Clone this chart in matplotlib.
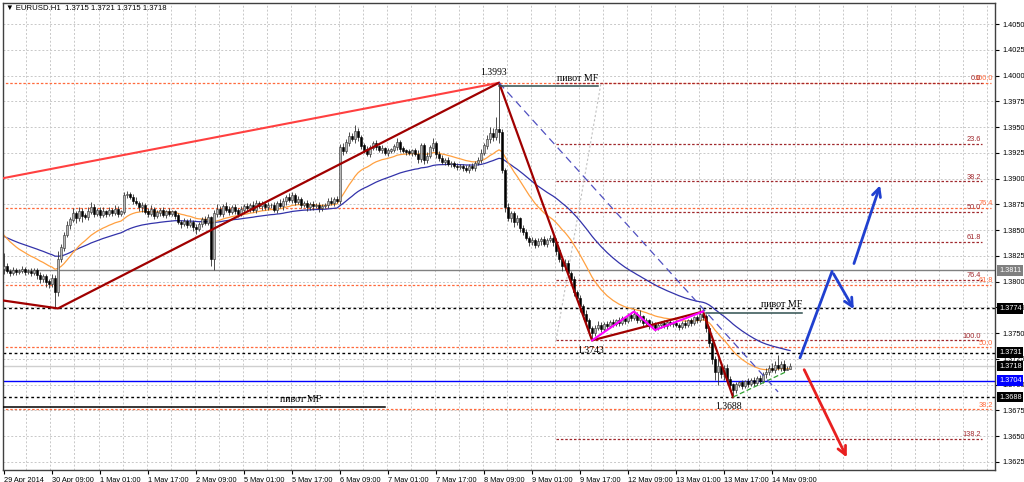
import numpy as np
import matplotlib.pyplot as plt
from matplotlib.transforms import blended_transform_factory

plt.rcParams['font.family'] = ['Liberation Sans', 'DejaVu Sans']

# EURUSD H1, 29 Apr 17:00 .. 14 May 2014 (one close per bar)
closes = [
    1.3815, 1.3810, 1.3808, 1.3811, 1.3809, 1.3810, 1.3812, 1.3809, 1.3810, 1.3808,
    1.3811, 1.3806, 1.3803, 1.3805, 1.3800, 1.3798, 1.3803, 1.3790, 1.3822, 1.3833,
    1.3845, 1.3855, 1.3860, 1.3866, 1.3862, 1.3868, 1.3864, 1.3863, 1.3868, 1.3872,
    1.3866, 1.3869, 1.3865, 1.3868, 1.3866, 1.3869, 1.3867, 1.3870, 1.3866, 1.3868,
    1.3884, 1.3885, 1.3882, 1.3878, 1.3876, 1.3872, 1.3874, 1.3868, 1.3866, 1.3870,
    1.3864, 1.3867, 1.3869, 1.3865, 1.3868, 1.3866, 1.3868, 1.3864, 1.3858, 1.3856,
    1.3859, 1.3855, 1.3858, 1.3853, 1.3851, 1.3856, 1.3860, 1.3857, 1.3862, 1.3822,
    1.3866, 1.3870, 1.3866, 1.3873, 1.3870, 1.3868, 1.3872, 1.3869, 1.3866, 1.3870,
    1.3873, 1.3871, 1.3874, 1.3870, 1.3876, 1.3873, 1.3875, 1.3872, 1.3874, 1.3874,
    1.3870, 1.3876, 1.3873, 1.3878, 1.3882, 1.3879, 1.3884, 1.3877, 1.3880, 1.3874,
    1.3876, 1.3872, 1.3875, 1.3873, 1.3874, 1.3871, 1.3873, 1.3874, 1.3878, 1.3876,
    1.3880, 1.3878, 1.3930, 1.3927, 1.3935, 1.3941, 1.3938, 1.3946, 1.3940, 1.3932,
    1.3928, 1.3924, 1.3930, 1.3934, 1.3931, 1.3928, 1.3929, 1.3925, 1.3927, 1.3928,
    1.3931, 1.3935, 1.3929, 1.3927, 1.3926, 1.3925, 1.3927, 1.3924, 1.3919, 1.3932,
    1.3918, 1.3922, 1.3930, 1.3934, 1.3924, 1.3920, 1.3916, 1.3918, 1.3914, 1.3915,
    1.3912, 1.3911, 1.3912, 1.3910, 1.3908, 1.3912, 1.3910, 1.3915, 1.3918, 1.3925,
    1.3932, 1.3938, 1.3944, 1.3940, 1.3948, 1.3945, 1.3908, 1.3872, 1.3862, 1.3866,
    1.3858, 1.3861, 1.3852, 1.3848, 1.3842, 1.3838, 1.3840, 1.3836, 1.3839, 1.3841,
    1.3837, 1.3840, 1.3842, 1.3838, 1.3830, 1.3822, 1.3815, 1.3818, 1.3808, 1.3802,
    1.3790, 1.3784, 1.3776, 1.3768, 1.3762, 1.3755, 1.3750, 1.3755, 1.3758, 1.3754,
    1.3759, 1.3757, 1.3761, 1.3759, 1.3762, 1.3760, 1.3764, 1.3762, 1.3767, 1.3765,
    1.3768, 1.3763, 1.3766, 1.3760, 1.3762, 1.3757, 1.3759, 1.3755, 1.3758, 1.3760,
    1.3757, 1.3761, 1.3759, 1.3760, 1.3758, 1.3756, 1.3760, 1.3758, 1.3762, 1.3760,
    1.3765, 1.3763, 1.3768, 1.3766, 1.3755, 1.3740, 1.3725, 1.3712, 1.3718, 1.3710,
    1.3716, 1.3705, 1.3700, 1.3695, 1.3700, 1.3702, 1.3699, 1.3703, 1.3701, 1.3704,
    1.3702, 1.3706, 1.3704, 1.3710, 1.3712, 1.3716, 1.3714, 1.3719, 1.3716, 1.3720,
    1.3714, 1.3715, 1.3718,
]
first_open = 1.3812

# wick lengths in pips above / below the body
hi_wick = [
    13, 3, 2, 3, 2, 2, 3, 2, 2, 3,  2, 2, 3, 2, 2, 3, 4, 3, 8, 4,
    3, 4, 3, 5, 3, 4, 3, 3, 4, 5,  3, 2, 3, 4, 2, 3, 2, 4, 3, 2,
    3, 3, 2, 3, 4, 2, 3, 2, 3, 4,  2, 3, 2, 3, 2, 3, 2, 2, 3, 2,
    3, 2, 4, 2, 3, 2, 3, 4, 4, 2,  4, 5, 3, 2, 4, 3, 2, 3, 2, 3,
    2, 3, 2, 4, 3, 2, 3, 2, 3, 2,  3, 2, 4, 3, 2, 4, 3, 2, 3, 2,
    2, 3, 2, 3, 2, 3, 2, 2, 3, 4,  2, 3, 4, 5, 3, 4, 3, 6, 3, 2,
    3, 4, 3, 2, 3, 2, 4, 2, 3, 2,  3, 4, 2, 3, 2, 3, 2, 3, 4, 3,
    3, 4, 3, 5, 2, 3, 3, 2, 3, 2,  2, 3, 2, 2, 3, 2, 3, 2, 3, 4,
    3, 4, 6, 5, 12, 45, 3, 2, 4, 3, 3, 4, 2, 3, 3, 2, 3, 2, 3, 2,
    3, 2, 3, 2, 4, 3, 2, 4, 3, 2,  3, 2, 3, 2, 4, 3, 2, 3, 4, 3,
    2, 3, 2, 3, 2, 4, 3, 2, 3, 4,  5, 3, 6, 2, 3, 2, 3, 2, 3, 2,
    3, 2, 3, 2, 3, 2, 2, 3, 2, 3,  2, 3, 6, 6, 3, 2, 4, 3, 8, 4,
    3, 4, 3, 2, 3, 2, 3, 2, 3, 2,  3, 2, 3, 2, 4, 3, 5, 4, 10, 3,
    4, 3, 3,
]
lo_wick = [
    5, 2, 3, 2, 3, 2, 2, 3, 2, 3,  2, 3, 4, 3, 5, 4, 3, 16, 4, 3,
    3, 2, 4, 2, 5, 3, 6, 2, 3, 2,  3, 2, 3, 2, 3, 2, 3, 2, 3, 2,
    2, 3, 2, 3, 2, 3, 4, 2, 3, 2,  3, 2, 3, 2, 3, 2, 2, 3, 2, 4,
    2, 3, 2, 4, 5, 2, 3, 2, 2, 7,  11, 3, 2, 3, 2, 3, 2, 3, 3, 2,
    3, 2, 3, 2, 3, 2, 3, 2, 2, 3,  2, 3, 2, 3, 4, 2, 3, 3, 2, 3,
    2, 3, 2, 3, 2, 3, 2, 2, 3, 2,  3, 2, 3, 4, 2, 3, 2, 3, 4, 3,
    3, 2, 3, 2, 3, 2, 3, 2, 3, 2,  2, 3, 3, 2, 3, 2, 3, 2, 4, 3,
    4, 3, 2, 3, 4, 3, 2, 3, 2, 3,  2, 3, 2, 3, 2, 3, 2, 3, 2, 3,
    2, 3, 3, 4, 3, 10, 3, 4, 3, 4, 5, 3, 4, 3, 2, 3, 2, 3, 2, 3,
    2, 3, 2, 3, 4, 3, 5, 4, 3, 4,  4, 3, 5, 4, 3, 7, 7, 3, 2, 3,
    2, 3, 2, 3, 2, 3, 2, 3, 2, 3,  2, 3, 2, 3, 2, 3, 2, 3, 2, 3,
    2, 3, 2, 3, 2, 3, 2, 3, 2, 3,  2, 3, 2, 3, 4, 3, 5, 7, 12, 4,
    5, 4, 3, 7, 3, 2, 3, 2, 3, 2,  3, 2, 3, 2, 4, 3, 2, 3, 2, 3,
    2, 0, 0,
]

date_labels = ["29 Apr 2014", "30 Apr 09:00", "1 May 01:00", "1 May 17:00", "2 May 09:00",
               "5 May 01:00", "5 May 17:00", "6 May 09:00", "7 May 01:00", "7 May 17:00",
               "8 May 09:00", "9 May 01:00", "9 May 17:00", "12 May 09:00", "13 May 01:00",
               "13 May 17:00", "14 May 09:00"]

# moving averages (EMA) and their values before the first visible bar
fast_period, slow_period = 21, 50
fast_start, slow_start = 1.3848, 1.3845

# horizontal levels with price boxes on the axis
hline_prices = [1.3811, 1.3774, 1.3731, 1.3718, 1.3704, 1.3688]

# fibo grid A (orange): 100% at the high, 0% far below the chart
fibA_100, fibA_0 = 1.3993, 1.3480
fibA_levels = [100.0, 76.4, 61.8, 50.0, 38.2]
# fibo grid B (dark red): 0% at the high, 100% at 1.3743
fibB_0, fibB_100 = 1.3993, 1.3743
fibB_levels = [0.0, 23.6, 38.2, 50.0, 61.8, 76.4, 100.0, 138.2]
fibB_base_bars = [184, 199]
fibB_base_prices = [1.3743, 1.3993]

red_bars, red_prices = [-1, 165], [1.3900, 1.3993]
zig_bars = [-1, 18, 165, 196, 233, 243]
zig_prices = [1.3782, 1.3774, 1.3993, 1.3743, 1.3771, 1.3688]
mag_bars, mag_prices = [196, 210, 217, 233], [1.3743, 1.3771, 1.3753, 1.3771]
green_bars, green_prices = [243, 261], [1.3688, 1.3713]
dash_bars, dash_prices = [165, 258], [1.3993, 1.3693]

pivot_start = [165, 234, -1]
pivot_end = [198, 266, 127]
pivot_price = [1.3990, 1.3770, 1.3678]

swing_bars = [163, 195.5, 241.5]
swing_prices = [1.3993, 1.3743, 1.3688]

blue_path_bars, blue_path_prices = [265.3, 276, 283.7], [1.3726, 1.3810, 1.3771]
blue_up_bars, blue_up_prices = [283, 292.3], [1.3815, 1.3896]
red_arrow_bars, red_arrow_prices = [266.3, 281.3], [1.3717, 1.3627]


closes = np.array(closes)
opens = np.concatenate([[first_open], closes[:-1]])
highs = np.maximum(opens, closes) + np.array(hi_wick) * 0.0001
lows = np.minimum(opens, closes) - np.array(lo_wick) * 0.0001
n = len(closes)
idx = np.arange(n)


def ema(values, period, start):
    out, e, a = [], start, 2.0 / (period + 1)
    for v in values:
        e = e + a * (v - e)
        out.append(e)
    return np.array(out)


fs = 5.3
fig = plt.figure(figsize=(10.24, 4.82), dpi=100)
ax = fig.add_axes([3 / 1024, 12 / 482, 992 / 1024, 467 / 482])
ax.set_xlim(-0.33, 330.3)
ax.set_ylim(1.36172, 1.40704)
trans = blended_transform_factory(ax.transAxes, ax.transData)

# grid
yt = np.arange(1.3625, 1.40501, 0.0025)
for y in yt:
    ax.axhline(y, color='#c8c8c8', lw=0.7, ls=(0, (2, 2)), zorder=0)
for x in range(8, 331, 8):
    ax.axvline(x - 0.5, color='#c8c8c8', lw=0.7, ls=(0, (2, 2)), zorder=0)

# fibo grids
for lv in fibA_levels:
    p = fibA_0 + (fibA_100 - fibA_0) * lv / 100
    ax.plot([-1, 329], [p, p], color='#ff6a3c', lw=0.9, ls=(0, (2, 1.5)), zorder=1)
    ax.text(329.7, p + 0.00005, f"{lv:.1f}", color='#ff6a3c', fontsize=fs, ha='right', va='bottom')
for lv in fibB_levels:
    p = fibB_0 + (fibB_100 - fibB_0) * lv / 100
    ax.plot([fibB_base_bars[0], 326], [p, p], color='#a0282d', lw=0.9, ls=(0, (2, 1.5)), zorder=1)
    ax.text(325.7, p + 0.00005, f"{lv:.1f}", color='#a0282d', fontsize=fs, ha='right', va='bottom')
ax.plot(fibB_base_bars, fibB_base_prices, color='#c0c0c0', lw=0.8, ls=(0, (2, 2)), zorder=1)

# horizontal lines
hl_colors = ['#808080', 'black', 'black', '#cfcfcf', '#0000ff', 'black']
hl_styles = ['-', (0, (2, 2)), (0, (2, 2)), '-', '-', (0, (2, 2))]
hl_box = ['#808080', 'black', 'black', 'black', '#0000ff', 'black']
for p, c, s, b in zip(hline_prices, hl_colors, hl_styles, hl_box):
    ax.axhline(p, color=c, lw=1.0, ls=s, zorder=1.5)
    ax.text(1.004, p, f"{p:.4f}", transform=trans, color='white', fontsize=fs,
            ha='left', va='center', zorder=6, clip_on=False,
            bbox=dict(boxstyle='square,pad=0.25', fc=b, ec='none'))

# moving averages
ax.plot(idx, ema(closes, slow_period, slow_start), color='#3333aa', lw=0.9, zorder=2)
ax.plot(idx, ema(closes, fast_period, fast_start), color='#ffa040', lw=0.9, zorder=2)

# candles
up = closes >= opens
ax.vlines(idx, lows, highs, color='#303030', lw=0.6, zorder=3)
ax.bar(idx[up], (closes - opens)[up] + 0.00003, bottom=opens[up], width=0.65,
       color='#b8b8b8', edgecolor='#303030', lw=0.4, zorder=3)
ax.bar(idx[~up], (opens - closes)[~up] + 0.00003, bottom=closes[~up], width=0.65,
       color='black', edgecolor='black', lw=0.4, zorder=3)

# trend lines
ax.plot(red_bars, red_prices, color='#ff4040', lw=1.5, zorder=4)
ax.plot(zig_bars, zig_prices, color='#a00000', lw=1.6, zorder=4)
ax.plot(mag_bars, mag_prices, color='#ff00ff', lw=1.5, zorder=4)
ax.plot(green_bars, green_prices, color='#30a030', lw=0.9, ls=(0, (4, 2)), zorder=4)
ax.plot(dash_bars, dash_prices, color='#5050c0', lw=0.9, ls=(0, (6, 4)), zorder=4)

# pivot lines
piv_colors = ['#2f4f4f', '#2f4f4f', 'black']
for k, (s, e, p, c) in enumerate(zip(pivot_start, pivot_end, pivot_price, piv_colors)):
    ax.plot([s, e], [p, p], color=c, lw=1.1, zorder=4)
    if k < 2:
        ax.text(e, p + 0.0003, "пивот MF", family='Liberation Serif', fontsize=7.2,
                ha='right', va='bottom', zorder=5)
    else:
        ax.text(99, p + 0.0003, "пивот MF", family='Liberation Serif', fontsize=7.2,
                ha='center', va='bottom', zorder=5)

# swing labels
ax.text(swing_bars[0], swing_prices[0] + 0.0006, f"{swing_prices[0]:.4f}",
        family='Liberation Serif', fontsize=7, ha='center', va='bottom', zorder=5)
for b, p in zip(swing_bars[1:], swing_prices[1:]):
    ax.text(b, p - 0.0005, f"{p:.4f}", family='Liberation Serif', fontsize=7,
            ha='center', va='top', zorder=5)

# forecast arrows
ax.plot(blue_path_bars[:2], blue_path_prices[:2], color='#2040d0', lw=2, zorder=5,
        solid_capstyle='round')
arrow_kw = dict(arrowstyle='->,head_length=0.6,head_width=0.3', lw=2)
ax.annotate('', xy=(blue_path_bars[2], blue_path_prices[2]),
            xytext=(blue_path_bars[1], blue_path_prices[1]),
            arrowprops=dict(color='#2040d0', **arrow_kw), zorder=5)
ax.annotate('', xy=(blue_up_bars[1], blue_up_prices[1]),
            xytext=(blue_up_bars[0], blue_up_prices[0]),
            arrowprops=dict(color='#2040d0', **arrow_kw), zorder=5)
ax.annotate('', xy=(red_arrow_bars[1], red_arrow_prices[1]),
            xytext=(red_arrow_bars[0], red_arrow_prices[0]),
            arrowprops=dict(color='#e82020', **arrow_kw), zorder=5)

# axes
ax.yaxis.tick_right()
ax.set_yticks(yt)
ax.set_yticklabels([f"{y:.4f}" for y in yt], fontsize=fs)
ax.set_xticks(np.arange(0, 257, 16))
ax.set_xticklabels(date_labels, fontsize=fs)
for lab in ax.get_xticklabels():
    lab.set_horizontalalignment('left')
ax.tick_params(axis='both', length=3, width=0.8, pad=2, colors='black')
for sp in ax.spines.values():
    sp.set_color('#404040')
    sp.set_linewidth(1)

fig.text(6 / 1024, 1 - 8 / 482, "▼ EURUSD.H1  1.3715 1.3721 1.3715 1.3718",
         fontsize=5.6, va='center', ha='left')

fig.savefig('out.png', dpi=100)
